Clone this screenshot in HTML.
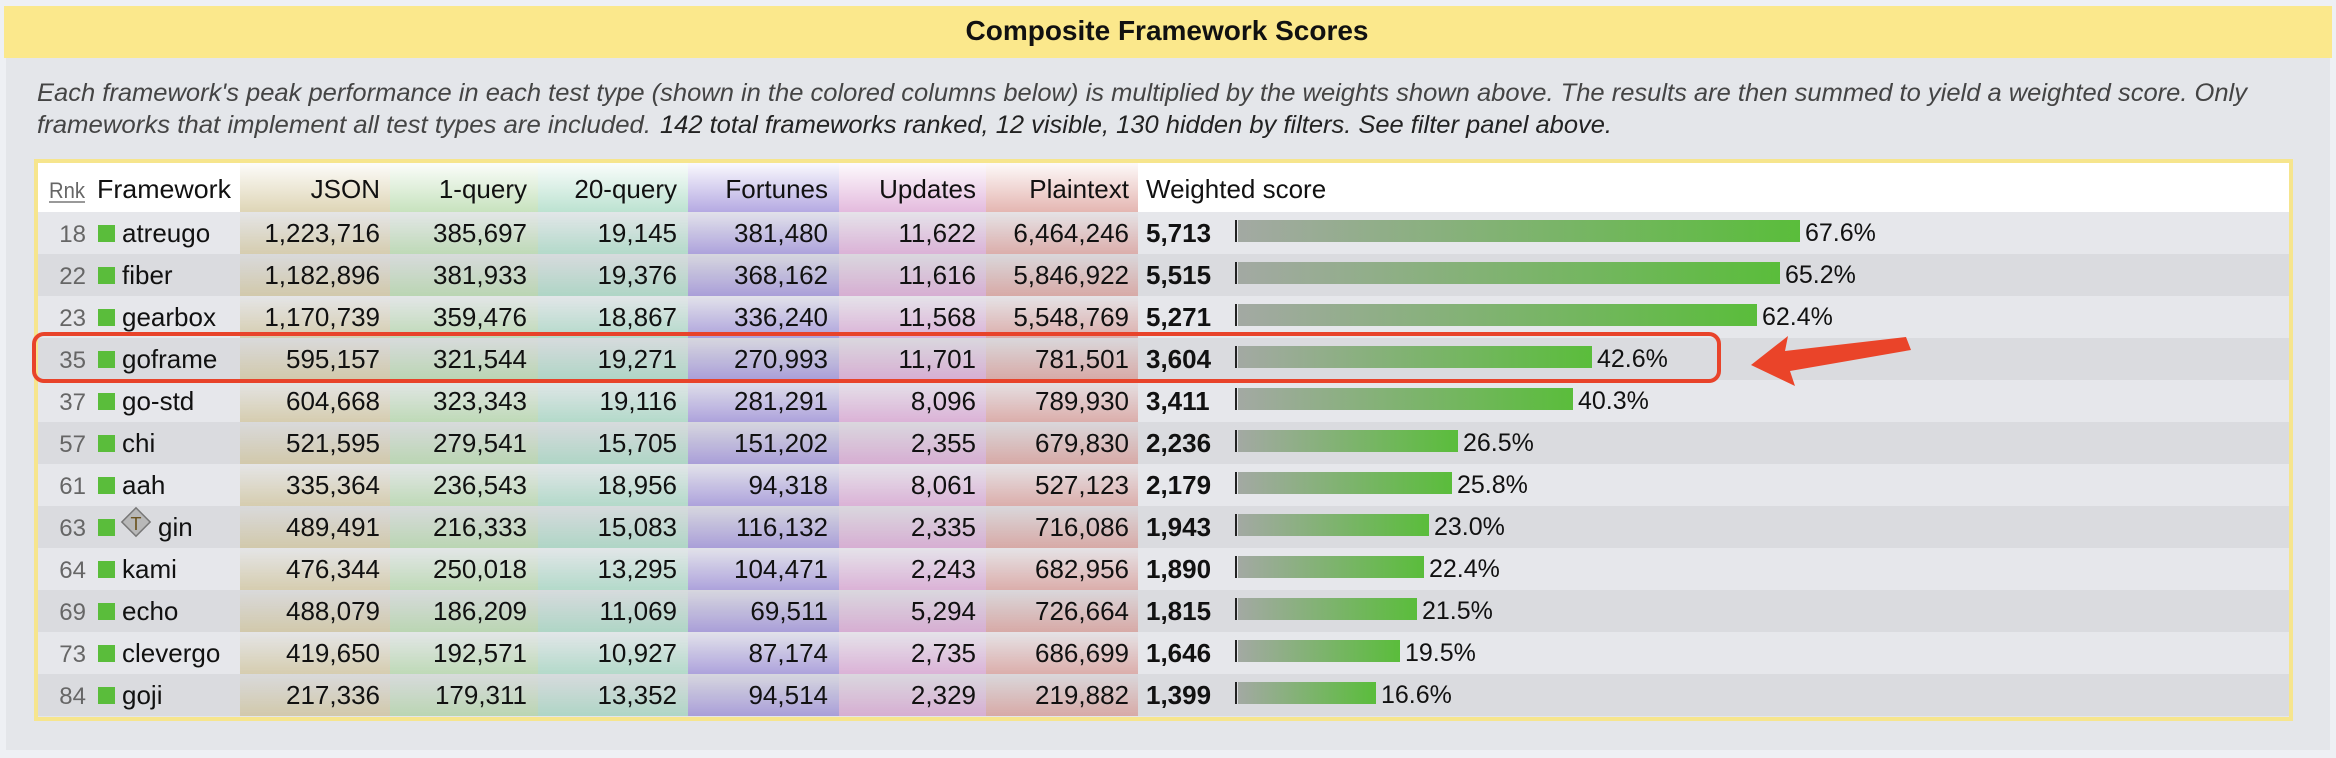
<!DOCTYPE html>
<html><head><meta charset="utf-8"><style>
html,body{margin:0;padding:0;background:#eef0f4;}
svg{display:block;}
text{font-family:"Liberation Sans",sans-serif;}
</style></head><body>
<svg width="2336" height="758" viewBox="0 0 2336 758" xmlns="http://www.w3.org/2000/svg">
<defs>
<linearGradient id="gJ" x1="0" y1="0" x2="0" y2="1"><stop offset="0" stop-color="#cdbf8f" stop-opacity="0.05"/><stop offset="1" stop-color="#cdbf8f" stop-opacity="0.65"/></linearGradient>
<linearGradient id="g1" x1="0" y1="0" x2="0" y2="1"><stop offset="0" stop-color="#a9d39b" stop-opacity="0.05"/><stop offset="1" stop-color="#a9d39b" stop-opacity="0.65"/></linearGradient>
<linearGradient id="g2" x1="0" y1="0" x2="0" y2="1"><stop offset="0" stop-color="#98d3b8" stop-opacity="0.05"/><stop offset="1" stop-color="#98d3b8" stop-opacity="0.65"/></linearGradient>
<linearGradient id="gF" x1="0" y1="0" x2="0" y2="1"><stop offset="0" stop-color="#9585d6" stop-opacity="0.05"/><stop offset="1" stop-color="#9585d6" stop-opacity="0.7"/></linearGradient>
<linearGradient id="gU" x1="0" y1="0" x2="0" y2="1"><stop offset="0" stop-color="#d596cc" stop-opacity="0.05"/><stop offset="1" stop-color="#d596cc" stop-opacity="0.65"/></linearGradient>
<linearGradient id="gP" x1="0" y1="0" x2="0" y2="1"><stop offset="0" stop-color="#d68f88" stop-opacity="0.05"/><stop offset="1" stop-color="#d68f88" stop-opacity="0.65"/></linearGradient>
<pattern id="pJ" patternUnits="userSpaceOnUse" x="0" y="212" width="2336" height="42"><rect width="2336" height="42" fill="url(#gJ)"/></pattern>
<pattern id="p1" patternUnits="userSpaceOnUse" x="0" y="212" width="2336" height="42"><rect width="2336" height="42" fill="url(#g1)"/></pattern>
<pattern id="p2" patternUnits="userSpaceOnUse" x="0" y="212" width="2336" height="42"><rect width="2336" height="42" fill="url(#g2)"/></pattern>
<pattern id="pF" patternUnits="userSpaceOnUse" x="0" y="212" width="2336" height="42"><rect width="2336" height="42" fill="url(#gF)"/></pattern>
<pattern id="pU" patternUnits="userSpaceOnUse" x="0" y="212" width="2336" height="42"><rect width="2336" height="42" fill="url(#gU)"/></pattern>
<pattern id="pP" patternUnits="userSpaceOnUse" x="0" y="212" width="2336" height="42"><rect width="2336" height="42" fill="url(#gP)"/></pattern>
<linearGradient id="bar" x1="0" y1="0" x2="1" y2="0"><stop offset="0" stop-color="#a3a9a3"/><stop offset="1" stop-color="#5abd3b"/></linearGradient>
</defs>
<rect x="0" y="0" width="2336" height="758" fill="#eef0f4"/>
<rect x="6" y="58" width="2324" height="692" fill="#e4e6ea"/>
<rect x="4" y="6" width="2328" height="52" fill="#fbe88c"/>
<text x="1167" y="40" font-size="28" font-weight="bold" text-anchor="middle" fill="#111" textLength="403" lengthAdjust="spacingAndGlyphs">Composite Framework Scores</text>
<g font-style="italic" font-size="25" fill="#444">
<text x="37" y="101" textLength="2210" lengthAdjust="spacingAndGlyphs">Each framework's peak performance in each test type (shown in the colored columns below) is multiplied by the weights shown above. The results are then summed to yield a weighted score. Only</text>
<text x="37" y="133" textLength="614" lengthAdjust="spacingAndGlyphs">frameworks that implement all test types are included.</text>
<text x="660" y="133" fill="#222" textLength="952" lengthAdjust="spacingAndGlyphs">142 total frameworks ranked, 12 visible, 130 hidden by filters. See filter panel above.</text>
</g>
<!-- table -->
<rect x="36" y="161" width="2255" height="558" fill="none" stroke="#f6e58d" stroke-width="4"/>
<rect x="38" y="163" width="2251" height="49" fill="#fff"/>
<rect x="240" y="163" width="150" height="49" fill="url(#gJ)"/>
<rect x="390" y="163" width="148" height="49" fill="url(#g1)"/>
<rect x="538" y="163" width="150" height="49" fill="url(#g2)"/>
<rect x="688" y="163" width="151" height="49" fill="url(#gF)"/>
<rect x="839" y="163" width="147" height="49" fill="url(#gU)"/>
<rect x="986" y="163" width="152" height="49" fill="url(#gP)"/>
<g fill="#e6e7eb">
<rect x="38" y="212" width="2251" height="42"/><rect x="38" y="296" width="2251" height="42"/><rect x="38" y="380" width="2251" height="42"/><rect x="38" y="464" width="2251" height="42"/><rect x="38" y="548" width="2251" height="42"/><rect x="38" y="632" width="2251" height="42"/>
</g>
<g fill="#dadbdf">
<rect x="38" y="254" width="2251" height="42"/><rect x="38" y="338" width="2251" height="42"/><rect x="38" y="422" width="2251" height="42"/><rect x="38" y="506" width="2251" height="42"/><rect x="38" y="590" width="2251" height="42"/><rect x="38" y="674" width="2251" height="42"/>
</g>
<rect x="240" y="212" width="150" height="504" fill="url(#pJ)"/>
<rect x="390" y="212" width="148" height="504" fill="url(#p1)"/>
<rect x="538" y="212" width="150" height="504" fill="url(#p2)"/>
<rect x="688" y="212" width="151" height="504" fill="url(#pF)"/>
<rect x="839" y="212" width="147" height="504" fill="url(#pU)"/>
<rect x="986" y="212" width="152" height="504" fill="url(#pP)"/>
<!-- header -->
<g font-size="26" fill="#111">
<text x="49" y="198" font-size="22" fill="#666" textLength="36" lengthAdjust="spacingAndGlyphs">Rnk</text>
<rect x="49" y="201" width="36" height="2" fill="#999"/>
<text x="97" y="198" textLength="134" lengthAdjust="spacingAndGlyphs">Framework</text>
<g text-anchor="end">
<text x="380" y="198">JSON</text>
<text x="527" y="198">1-query</text>
<text x="677" y="198">20-query</text>
<text x="828" y="198">Fortunes</text>
<text x="976" y="198">Updates</text>
<text x="1129" y="198">Plaintext</text>
</g>
<text x="1146" y="198">Weighted score</text>
</g>
<!-- rank numbers -->
<g font-size="24" fill="#666" text-anchor="end">
<text x="86" y="242">18</text><text x="86" y="284">22</text><text x="86" y="326">23</text><text x="86" y="368">35</text><text x="86" y="410">37</text><text x="86" y="452">57</text><text x="86" y="494">61</text><text x="86" y="536">63</text><text x="86" y="578">64</text><text x="86" y="620">69</text><text x="86" y="662">73</text><text x="86" y="704">84</text>
</g>
<g fill="#5abd3b">
<rect x="98" y="225" width="17" height="17"/><rect x="98" y="267" width="17" height="17"/><rect x="98" y="309" width="17" height="17"/><rect x="98" y="351" width="17" height="17"/><rect x="98" y="393" width="17" height="17"/><rect x="98" y="435" width="17" height="17"/><rect x="98" y="477" width="17" height="17"/><rect x="98" y="519" width="17" height="17"/><rect x="98" y="561" width="17" height="17"/><rect x="98" y="603" width="17" height="17"/><rect x="98" y="645" width="17" height="17"/><rect x="98" y="687" width="17" height="17"/>
</g>
<rect x="126" y="512" width="20" height="20" fill="#b8b8b8" stroke="#777" stroke-width="1.5" transform="rotate(45 136 522)"/>
<text x="136" y="530" font-size="18" text-anchor="middle" fill="#6b5320">T</text>
<g font-size="26" fill="#111">
<text x="122" y="242">atreugo</text><text x="122" y="284">fiber</text><text x="122" y="326">gearbox</text><text x="122" y="368">goframe</text><text x="122" y="410">go-std</text><text x="122" y="452">chi</text><text x="122" y="494">aah</text><text x="158" y="536">gin</text><text x="122" y="578">kami</text><text x="122" y="620">echo</text><text x="122" y="662">clevergo</text><text x="122" y="704">goji</text>
</g>
<g font-size="26" fill="#111" text-anchor="end">
<text x="380" y="242">1,223,716</text><text x="527" y="242">385,697</text><text x="677" y="242">19,145</text><text x="828" y="242">381,480</text><text x="976" y="242">11,622</text><text x="1129" y="242">6,464,246</text>
<text x="380" y="284">1,182,896</text><text x="527" y="284">381,933</text><text x="677" y="284">19,376</text><text x="828" y="284">368,162</text><text x="976" y="284">11,616</text><text x="1129" y="284">5,846,922</text>
<text x="380" y="326">1,170,739</text><text x="527" y="326">359,476</text><text x="677" y="326">18,867</text><text x="828" y="326">336,240</text><text x="976" y="326">11,568</text><text x="1129" y="326">5,548,769</text>
<text x="380" y="368">595,157</text><text x="527" y="368">321,544</text><text x="677" y="368">19,271</text><text x="828" y="368">270,993</text><text x="976" y="368">11,701</text><text x="1129" y="368">781,501</text>
<text x="380" y="410">604,668</text><text x="527" y="410">323,343</text><text x="677" y="410">19,116</text><text x="828" y="410">281,291</text><text x="976" y="410">8,096</text><text x="1129" y="410">789,930</text>
<text x="380" y="452">521,595</text><text x="527" y="452">279,541</text><text x="677" y="452">15,705</text><text x="828" y="452">151,202</text><text x="976" y="452">2,355</text><text x="1129" y="452">679,830</text>
<text x="380" y="494">335,364</text><text x="527" y="494">236,543</text><text x="677" y="494">18,956</text><text x="828" y="494">94,318</text><text x="976" y="494">8,061</text><text x="1129" y="494">527,123</text>
<text x="380" y="536">489,491</text><text x="527" y="536">216,333</text><text x="677" y="536">15,083</text><text x="828" y="536">116,132</text><text x="976" y="536">2,335</text><text x="1129" y="536">716,086</text>
<text x="380" y="578">476,344</text><text x="527" y="578">250,018</text><text x="677" y="578">13,295</text><text x="828" y="578">104,471</text><text x="976" y="578">2,243</text><text x="1129" y="578">682,956</text>
<text x="380" y="620">488,079</text><text x="527" y="620">186,209</text><text x="677" y="620">11,069</text><text x="828" y="620">69,511</text><text x="976" y="620">5,294</text><text x="1129" y="620">726,664</text>
<text x="380" y="662">419,650</text><text x="527" y="662">192,571</text><text x="677" y="662">10,927</text><text x="828" y="662">87,174</text><text x="976" y="662">2,735</text><text x="1129" y="662">686,699</text>
<text x="380" y="704">217,336</text><text x="527" y="704">179,311</text><text x="677" y="704">13,352</text><text x="828" y="704">94,514</text><text x="976" y="704">2,329</text><text x="1129" y="704">219,882</text>
</g>
<g font-size="26" font-weight="bold" fill="#111">
<text x="1146" y="242">5,713</text><text x="1146" y="284">5,515</text><text x="1146" y="326">5,271</text><text x="1146" y="368">3,604</text><text x="1146" y="410">3,411</text><text x="1146" y="452">2,236</text><text x="1146" y="494">2,179</text><text x="1146" y="536">1,943</text><text x="1146" y="578">1,890</text><text x="1146" y="620">1,815</text><text x="1146" y="662">1,646</text><text x="1146" y="704">1,399</text>
</g>
<g fill="#222">
<rect x="1235" y="220" width="2" height="22"/><rect x="1235" y="262" width="2" height="22"/><rect x="1235" y="304" width="2" height="22"/><rect x="1235" y="346" width="2" height="22"/><rect x="1235" y="388" width="2" height="22"/><rect x="1235" y="430" width="2" height="22"/><rect x="1235" y="472" width="2" height="22"/><rect x="1235" y="514" width="2" height="22"/><rect x="1235" y="556" width="2" height="22"/><rect x="1235" y="598" width="2" height="22"/><rect x="1235" y="640" width="2" height="22"/><rect x="1235" y="682" width="2" height="22"/>
</g>
<g>
<rect x="1238" y="220" width="562" height="22" fill="url(#bar)"/>
<rect x="1238" y="262" width="542" height="22" fill="url(#bar)"/>
<rect x="1238" y="304" width="519" height="22" fill="url(#bar)"/>
<rect x="1238" y="346" width="354" height="22" fill="url(#bar)"/>
<rect x="1238" y="388" width="335" height="22" fill="url(#bar)"/>
<rect x="1238" y="430" width="220" height="22" fill="url(#bar)"/>
<rect x="1238" y="472" width="214" height="22" fill="url(#bar)"/>
<rect x="1238" y="514" width="191" height="22" fill="url(#bar)"/>
<rect x="1238" y="556" width="186" height="22" fill="url(#bar)"/>
<rect x="1238" y="598" width="179" height="22" fill="url(#bar)"/>
<rect x="1238" y="640" width="162" height="22" fill="url(#bar)"/>
<rect x="1238" y="682" width="138" height="22" fill="url(#bar)"/>
</g>
<g font-size="25" fill="#111">
<text x="1805" y="241">67.6%</text><text x="1785" y="283">65.2%</text><text x="1762" y="325">62.4%</text><text x="1597" y="367">42.6%</text><text x="1578" y="409">40.3%</text><text x="1463" y="451">26.5%</text><text x="1457" y="493">25.8%</text><text x="1434" y="535">23.0%</text><text x="1429" y="577">22.4%</text><text x="1422" y="619">21.5%</text><text x="1405" y="661">19.5%</text><text x="1381" y="703">16.6%</text>
</g>
<!-- highlight -->
<rect x="34" y="334" width="1685" height="47" rx="10" ry="10" fill="none" stroke="#e8432a" stroke-width="4"/>
<polygon points="1751,365 1788,336 1785,351 1906,337 1911,350 1790,371 1795,386" fill="#ea4429"/>
</svg>
</body></html>
